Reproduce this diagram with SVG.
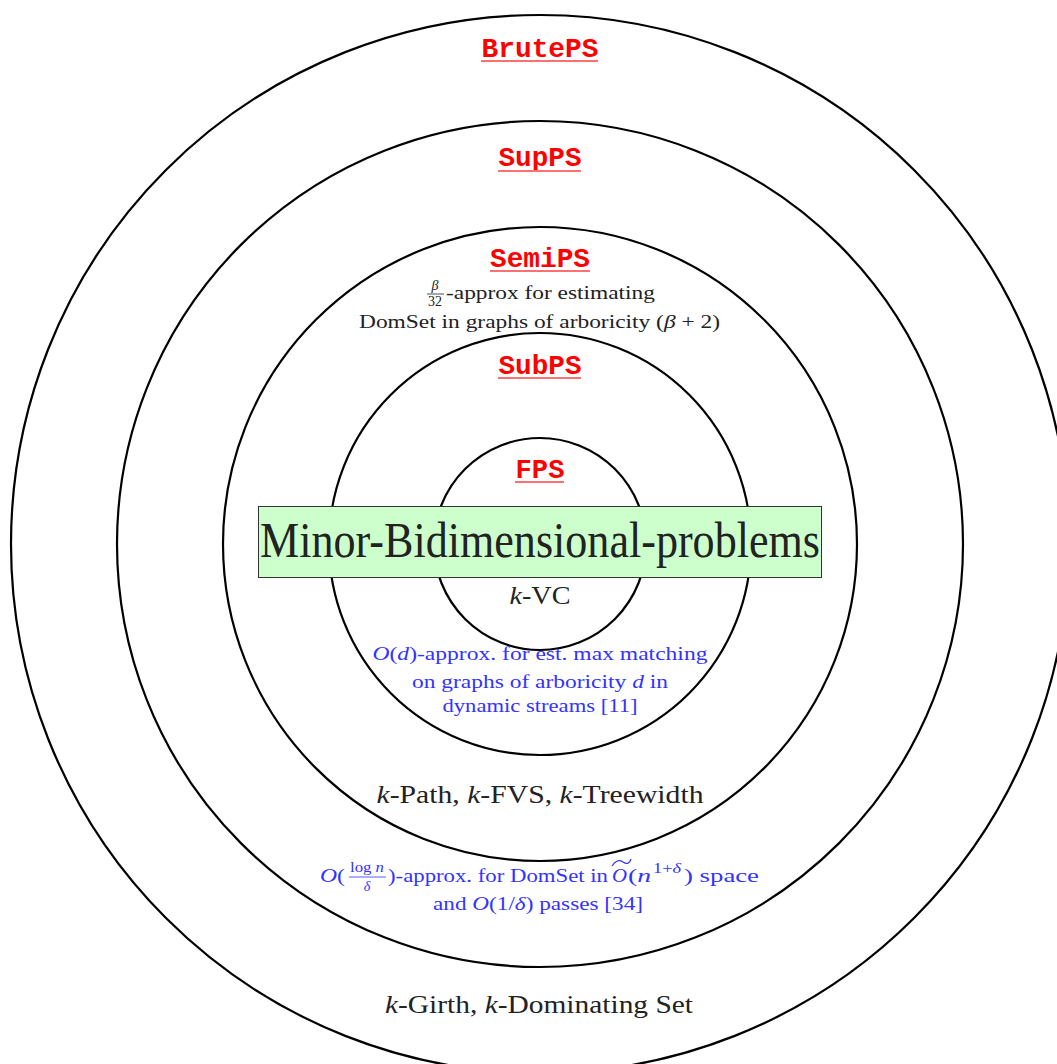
<svg xmlns="http://www.w3.org/2000/svg" width="1057" height="1064" viewBox="0 0 1057 1064">
<style>
.ring{fill:none;stroke:#000;stroke-width:2.2}
.lbl{font-family:"Liberation Mono",monospace;font-weight:bold;font-size:27px;fill:#ff0000;text-anchor:middle}
.ul{stroke:#ff7070;stroke-width:2}
.tx{font-family:"Liberation Serif",serif;fill:#222}
.bl{font-family:"Liberation Serif",serif;fill:#3333ff}
.it{font-style:italic}
</style>
<rect width="1057" height="1064" fill="#fff"/>
<g id="rings">
<circle id="BrutePS" class="ring" cx="540" cy="544" r="529"/>
<circle id="SupPS" class="ring" cx="540" cy="544" r="423"/>
<circle id="SemiPS" class="ring" cx="540" cy="544" r="317"/>
<circle id="SubPS" class="ring" cx="540" cy="544" r="211"/>
<circle id="FPS" class="ring" cx="540" cy="544" r="106"/>
</g>
<g id="labels">
<text class="lbl" x="540" y="57" textLength="117" lengthAdjust="spacingAndGlyphs">BrutePS</text>
<line class="ul" x1="481" y1="61" x2="598" y2="61"/>
<text class="lbl" x="540" y="166" textLength="83" lengthAdjust="spacingAndGlyphs">SupPS</text>
<line class="ul" x1="498" y1="171" x2="581" y2="171"/>
<text class="lbl" x="540" y="267" textLength="100" lengthAdjust="spacingAndGlyphs">SemiPS</text>
<line class="ul" x1="490" y1="271" x2="590" y2="271"/>
<text class="lbl" x="540" y="374" textLength="83" lengthAdjust="spacingAndGlyphs">SubPS</text>
<line class="ul" x1="498" y1="378" x2="581" y2="378"/>
<text class="lbl" x="540" y="478" textLength="49" lengthAdjust="spacingAndGlyphs">FPS</text>
<line class="ul" x1="515" y1="482" x2="564" y2="482"/>
</g>
<g id="semi-text">
<text class="tx it" x="435" y="290" font-size="14" text-anchor="middle">β</text>
<line x1="427" y1="294" x2="444" y2="294" stroke="#222" stroke-width="0.8"/>
<text class="tx" x="435" y="306" font-size="14" text-anchor="middle">32</text>
<text class="tx" x="446" y="299" font-size="18" textLength="209" lengthAdjust="spacingAndGlyphs">-approx for estimating</text>
<text class="tx" x="359" y="328" font-size="18" textLength="361" lengthAdjust="spacingAndGlyphs">DomSet in graphs of arboricity (<tspan class="it">β</tspan> + 2)</text>
</g>
<g id="sub-text">
<text class="bl" x="540" y="660" font-size="18" text-anchor="middle" textLength="335" lengthAdjust="spacingAndGlyphs"><tspan class="it">O</tspan>(<tspan class="it">d</tspan>)-approx. for est. max matching</text>
<text class="bl" x="540" y="688" font-size="18" text-anchor="middle" textLength="256" lengthAdjust="spacingAndGlyphs">on graphs of arboricity <tspan class="it">d</tspan> in</text>
<text class="bl" x="540" y="712" font-size="18" text-anchor="middle" textLength="195" lengthAdjust="spacingAndGlyphs">dynamic streams [11]</text>
</g>
<g id="probs">
<text class="tx" x="540" y="604" font-size="25" text-anchor="middle" textLength="61" lengthAdjust="spacingAndGlyphs"><tspan class="it">k</tspan>-VC</text>
<text class="tx" x="540" y="803" font-size="25" text-anchor="middle" textLength="327" lengthAdjust="spacingAndGlyphs"><tspan class="it">k</tspan>-Path, <tspan class="it">k</tspan>-FVS, <tspan class="it">k</tspan>-Treewidth</text>
<text class="tx" x="539" y="1013" font-size="25" text-anchor="middle" textLength="308" lengthAdjust="spacingAndGlyphs"><tspan class="it">k</tspan>-Girth, <tspan class="it">k</tspan>-Dominating Set</text>
</g>
<g id="supps-text">
<text class="bl" x="320" y="882" font-size="18" textLength="25" lengthAdjust="spacingAndGlyphs"><tspan class="it">O</tspan>(</text>
<text class="bl" x="367" y="872" font-size="14" text-anchor="middle" textLength="34" lengthAdjust="spacingAndGlyphs">log <tspan class="it">n</tspan></text>
<line x1="349" y1="877" x2="386" y2="877" stroke="#3333ff" stroke-width="0.8"/>
<text class="bl it" x="367" y="891" font-size="14" text-anchor="middle">δ</text>
<text class="bl" x="388" y="882" font-size="18" textLength="220" lengthAdjust="spacingAndGlyphs">)-approx. for DomSet in</text>
<text class="bl it" x="612" y="882" font-size="18" textLength="15" lengthAdjust="spacingAndGlyphs">O</text>
<path d="M612 866 Q617 858 623 862 T631 859" fill="none" stroke="#3333ff" stroke-width="1.2"/>
<text class="bl" x="628" y="882" font-size="18" textLength="23" lengthAdjust="spacingAndGlyphs">(<tspan class="it">n</tspan></text>
<text class="bl" x="653" y="873" font-size="14" textLength="28" lengthAdjust="spacingAndGlyphs">1+<tspan class="it">δ</tspan></text>
<text class="bl" x="684" y="882" font-size="18" textLength="75" lengthAdjust="spacingAndGlyphs">) space</text>
<text class="bl" x="538" y="910" font-size="18" text-anchor="middle" textLength="210" lengthAdjust="spacingAndGlyphs">and <tspan class="it">O</tspan>(1/<tspan class="it">δ</tspan>) passes [34]</text>
</g>
<g id="minor">
<rect x="258.5" y="506.5" width="563" height="71" fill="#ccffcc" stroke="#333" stroke-width="1"/>
<text class="tx" x="540" y="557" font-size="50" fill="#111" text-anchor="middle" textLength="560" lengthAdjust="spacingAndGlyphs">Minor-Bidimensional-problems</text>
</g>
</svg>
